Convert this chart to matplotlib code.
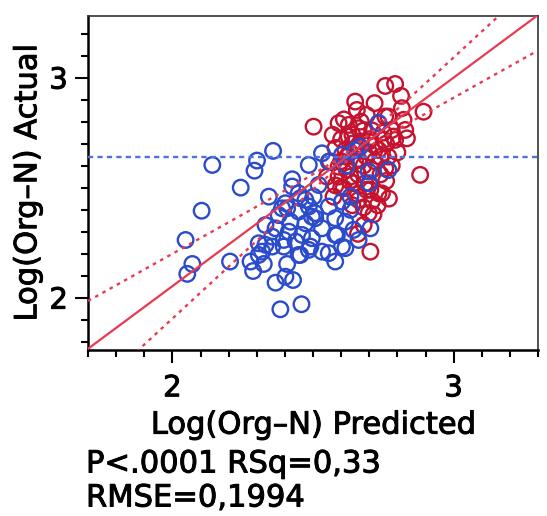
import numpy as np
import matplotlib
matplotlib.use("Agg")
import matplotlib.pyplot as plt
import matplotlib.patheffects as pe
from matplotlib.ticker import MultipleLocator

# ---- data ----
blue_pred = [2.142, 2.104, 2.047, 2.071, 2.053, 2.205, 2.243, 2.292, 2.301, 2.358,
             2.343, 2.331, 2.278, 2.287, 2.325, 2.319, 2.307, 2.331, 2.307, 2.367,
             2.402, 2.429, 2.384, 2.459, 2.408, 2.485, 2.426, 2.426, 2.390, 2.402,
             2.449, 2.473, 2.502, 2.449, 2.485, 2.420, 2.473, 2.508, 2.378, 2.367,
             2.355, 2.396, 2.414, 2.461, 2.496, 2.438, 2.491, 2.396, 2.449, 2.485,
             2.455, 2.532, 2.556, 2.603, 2.668, 2.698, 2.768, 2.520, 2.633, 2.556,
             2.603, 2.633, 2.496, 2.579, 2.615, 2.532, 2.579, 2.644, 2.704, 2.662,
             2.615, 2.532, 2.556, 2.579, 2.603, 2.508, 2.585, 2.455, 2.408, 2.733,
             2.650, 2.620, 2.700, 2.355]
blue_actual = [2.603, 2.395, 2.262, 2.153, 2.108, 2.164, 2.500, 2.577, 2.623, 2.667,
               2.459, 2.330, 2.164, 2.121, 2.153, 2.209, 2.194, 2.240, 2.247, 2.068,
               2.095, 2.080, 1.947, 1.970, 2.153, 2.603, 2.538, 2.505, 2.406, 2.429,
               2.474, 2.444, 2.459, 2.391, 2.414, 2.345, 2.338, 2.361, 2.375, 2.315,
               2.277, 2.262, 2.300, 2.285, 2.270, 2.255, 2.232, 2.232, 2.194, 2.217,
               2.452, 2.656, 2.618, 2.649, 2.686, 2.573, 2.580, 2.512, 2.459, 2.414,
               2.436, 2.399, 2.368, 2.361, 2.345, 2.315, 2.285, 2.308, 2.315, 2.262,
               2.225, 2.209, 2.202, 2.164, 2.232, 2.384, 2.285, 2.194, 2.406, 2.793,
               2.670, 2.600, 2.520, 2.232]

red_pred = [2.502, 2.757, 2.792, 2.813, 2.650, 2.719, 2.656, 2.816, 2.893, 2.768,
            2.822, 2.591, 2.627, 2.691, 2.828, 2.834, 2.780, 2.733, 2.751, 2.792,
            2.881, 2.715, 2.680, 2.704, 2.745, 2.704, 2.591, 2.644, 2.573, 2.662,
            2.757, 2.786, 2.627, 2.698, 2.615, 2.733, 2.768, 2.662, 2.591, 2.709,
            2.757, 2.633, 2.686, 2.733, 2.609, 2.662, 2.698, 2.640, 2.680, 2.700,
            2.720, 2.660, 2.620, 2.680, 2.740, 2.600, 2.660, 2.700, 2.640, 2.580,
            2.720, 2.760, 2.620, 2.690, 2.650, 2.710, 2.630, 2.670, 2.740, 2.600,
            2.560, 2.550, 2.600, 2.780, 2.800, 2.670, 2.610, 2.570, 2.750, 2.630,
            2.760, 2.690, 2.660, 2.580, 2.710, 2.640, 2.680, 2.730, 2.770, 2.660]
red_actual = [2.777, 2.962, 2.971, 2.917, 2.891, 2.884, 2.853, 2.861, 2.845, 2.823,
              2.808, 2.793, 2.785, 2.830, 2.762, 2.724, 2.762, 2.793, 2.717, 2.717,
              2.558, 2.378, 2.330, 2.209, 2.474, 2.490, 2.550, 2.520, 2.459, 2.770,
              2.823, 2.732, 2.732, 2.709, 2.671, 2.671, 2.641, 2.626, 2.595, 2.580,
              2.588, 2.550, 2.520, 2.474, 2.497, 2.444, 2.384, 2.740, 2.760, 2.660,
              2.620, 2.690, 2.640, 2.600, 2.560, 2.620, 2.560, 2.720, 2.700, 2.680,
              2.690, 2.700, 2.580, 2.640, 2.620, 2.760, 2.660, 2.710, 2.640, 2.720,
              2.620, 2.550, 2.500, 2.600, 2.660, 2.800, 2.810, 2.740, 2.750, 2.530,
              2.530, 2.490, 2.470, 2.510, 2.440, 2.420, 2.410, 2.420, 2.450, 2.290]

# fit summary
fit_slope = 0.948
fit_at_3 = 3.0
mean_actual = 2.64
mean_pred = 2.62
band_c = 0.02
band_k = 0.235

x_lim = (1.7, 3.3)
y_lim = (1.762, 3.28)
major_ticks = [2, 3]

# ---- figure ----
W, H, DPI = 547, 516, 100
fig = plt.figure(figsize=(W / DPI, H / DPI), dpi=DPI)
ax = fig.add_axes([88 / W, 1 - 350 / H, (538 - 88) / W, (350 - 16) / H])

blue_c = "#2a4bcc"
red_c = "#c4132f"
line_red = "#e83a52"
mean_blue = "#4a72e0"

xs = np.linspace(x_lim[0], x_lim[1], 200)
fit = fit_at_3 + fit_slope * (xs - 3)
half = np.sqrt(band_c ** 2 + (band_k * (xs - mean_pred)) ** 2)

ax.scatter(red_pred, red_actual, s=125, facecolors="none", edgecolors=red_c,
           linewidths=1.7, zorder=3)
ax.scatter(blue_pred, blue_actual, s=125, facecolors="none", edgecolors=blue_c,
           linewidths=1.7, zorder=4)

ax.plot(xs, fit, color=line_red, lw=1.6, zorder=5)
ax.plot(xs, fit + half, color=line_red, lw=1.7, ls=(0, (1.5, 2.0)), zorder=5)
ax.plot(xs, fit - half, color=line_red, lw=1.7, ls=(0, (1.5, 2.0)), zorder=5)
ax.axhline(mean_actual, color=mean_blue, lw=1.7, ls=(0, (2.2, 1.8)), zorder=5)

ax.set_xlim(*x_lim)
ax.set_ylim(*y_lim)
ax.set_xticks(major_ticks)
ax.set_yticks(major_ticks)
ax.xaxis.set_minor_locator(MultipleLocator(0.1))
ax.yaxis.set_minor_locator(MultipleLocator(0.1))
ax.tick_params(axis="x", which="major", length=9.5, width=1.5, labelsize=21, direction="out", pad=8)
ax.tick_params(axis="y", which="major", length=9.5, width=1.5, labelsize=21, direction="out", pad=5)
ax.tick_params(which="minor", length=5, width=1.5, direction="out")

for side in ["left", "bottom"]:
    ax.spines[side].set_linewidth(1.8)
for side in ["top", "right"]:
    ax.spines[side].set_linewidth(1.2)
    ax.spines[side].set_color("#333333")

stroke = [pe.withStroke(linewidth=0.7, foreground="black")]

ax.set_xlabel("Log(Org\u2013N) Predicted", fontsize=22, labelpad=6, path_effects=stroke)
ax.set_ylabel("Log(Org\u2013N) Actual", fontsize=22, labelpad=5, path_effects=stroke)
for lab in ax.get_xticklabels() + ax.get_yticklabels():
    lab.set_path_effects(stroke)

fig.text(86 / W, 1 - 464 / H, "P<.0001 RSq=0,33", fontsize=22, va="center", ha="left",
         path_effects=stroke)
fig.text(86 / W, 1 - 498 / H, "RMSE=0,1994", fontsize=22, va="center", ha="left",
         path_effects=stroke)

fig.savefig("out.png", dpi=DPI)
